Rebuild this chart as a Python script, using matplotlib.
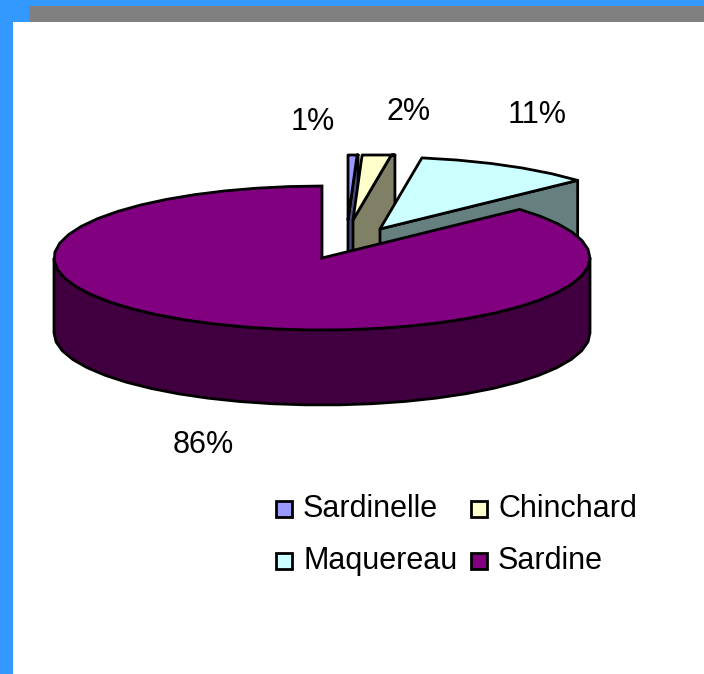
import numpy as np
import matplotlib.pyplot as plt
from matplotlib.patches import Rectangle

plt.rcParams['font.family'] = ['Liberation Sans', 'DejaVu Sans']

# data
categories = ['Sardinelle', 'Chinchard', 'Maquereau', 'Sardine']
shares = [0.6, 1.9, 10.7, 86.8]
pct_labels = ['1%', '2%', '11%', '86%']
colors = ['#9999FF', '#FFFFCC', '#CCFFFF', '#800080']
dark_colors = ['#4C4C80', '#808066', '#668080', '#400040']

# pie geometry, in pixels of the picture
cx, cy = 322, 258
rx, ry = 268, 72
depth = 75
top_limit = 155
explode_x = [26, 31, 58, 0]
explode_y = [-38, -38, -29, 0]
lw = 2.0

fig = plt.figure(figsize=(7.04, 6.74), dpi=100)
ax = fig.add_axes([0, 0, 1, 1])
ax.set_xlim(0, 704)
ax.set_ylim(674, 0)
ax.axis('off')

# slide background
ax.add_patch(Rectangle((0, 0), 704, 674, fc='#3399FF', ec='none'))
ax.add_patch(Rectangle((13, 22), 691, 652, fc='white', ec='none'))
ax.add_patch(Rectangle((29, 6), 675, 16, fc='#808080', ec='none'))


def rim(a, x0, y0):
    # a in degrees, clockwise from 12 o'clock
    a = np.radians(a)
    return x0 + rx * np.sin(a), y0 - ry * np.cos(a)


def arc_angles(a0, a1):
    # the original outline is made of rather long straight pieces
    n = max(2, int(abs(a1 - a0) / 7) + 1)
    return np.linspace(a0, a1, n)


def draw(xs, ys, fc):
    # the plot area cuts the exploded slices off at the top
    ys = np.maximum(ys, top_limit)
    ax.fill(xs, ys, fc=fc, ec='black', lw=lw, joinstyle='round')


edges = np.concatenate([[0], np.cumsum(shares)]) * 3.6

# exploded slices, back to front
for i in range(3):
    x0 = cx + explode_x[i]
    y0 = cy + explode_y[i]
    a0, a1 = edges[i], edges[i + 1]
    t = np.linspace(0, 1, 40)
    xe, ye = rim(a1, x0, y0)
    xs = x0 + t * (xe - x0)
    ys = y0 + t * (ye - y0)
    # cut face below the closing edge
    draw(np.concatenate([xs, xs[::-1]]),
         np.concatenate([np.maximum(ys, top_limit), np.maximum(ys, top_limit)[::-1] + depth]),
         dark_colors[i])
    xa, ya = rim(arc_angles(a0, a1), x0, y0)
    xb, yb = rim(a0, x0, y0)
    x_top = np.concatenate([x0 + t * (xb - x0), xa, xs[::-1]])
    y_top = np.concatenate([y0 + t * (yb - y0), ya, ys[::-1]])
    draw(x_top, y_top, colors[i])

# big slice: outer wall first, then its top
xw, yw = rim(arc_angles(90, 270), cx, cy)
ax.fill(np.concatenate([xw, xw[::-1]]), np.concatenate([yw, yw[::-1] + depth]),
        fc=dark_colors[3], ec='black', lw=lw)
xt, yt = rim(arc_angles(edges[3], edges[4]), cx, cy)
ax.fill(np.concatenate([[cx], xt]), np.concatenate([[cy], yt]),
        fc=colors[3], ec='black', lw=lw)

# percent labels
label_x = [313, 409, 537, 203]
label_y = [122, 112, 115, 445]
for x, y, s in zip(label_x, label_y, pct_labels):
    ax.text(x, y, s, fontsize=22, ha='center', va='center', color='black')

# legend
leg_x = [276, 471, 276, 471]
leg_y = [510, 510, 562, 562]
for x, y, name, c in zip(leg_x, leg_y, categories, colors):
    ax.add_patch(Rectangle((x, y - 9), 16, 16, fc=c, ec='black', lw=lw))
    ax.text(x + 27, y - 1, name, fontsize=22, ha='left', va='center', color='black')

fig.savefig('out.png', dpi=100)
